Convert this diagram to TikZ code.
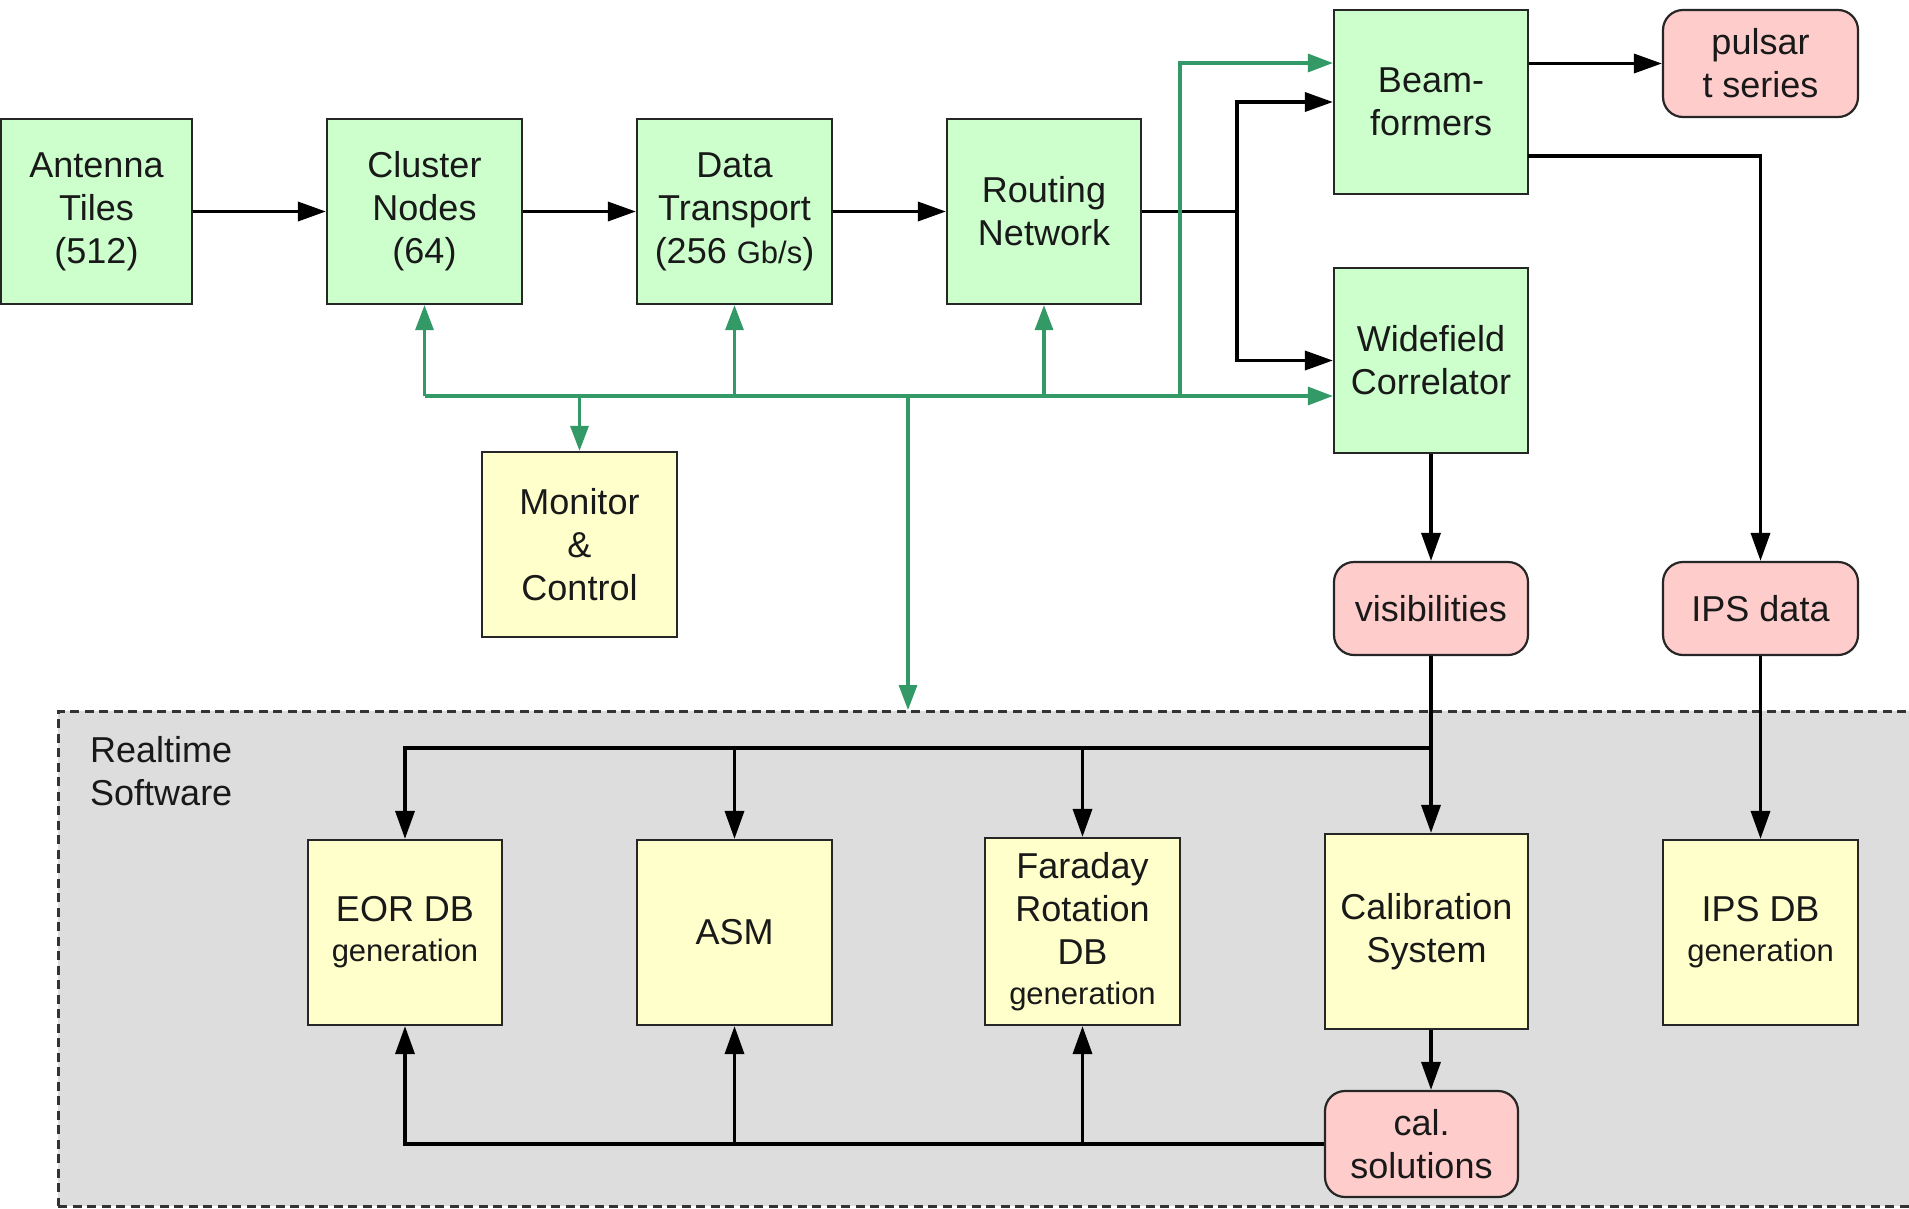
\documentclass[tikz,border=0pt]{standalone}
\usepackage{fontspec}
\setmainfont{Liberation Sans}
\usetikzlibrary{arrows.meta}
\definecolor{boxgreen}{HTML}{CCFFCC}
\definecolor{boxyellow}{HTML}{FFFFCC}
\definecolor{boxpink}{HTML}{FFCCCC}
\definecolor{rtgray}{HTML}{DDDDDD}
\definecolor{linegreen}{HTML}{339966}
\newcommand{\sm}[1]{{\fontsize{31}{36}\selectfont #1}}
\begin{document}
\begin{tikzpicture}[x=1pt,y=1pt,
  box/.style={draw=black!85, line width=2.2pt, minimum width=195pt, minimum height=185pt,
    align=center, inner sep=0pt, text=black!90, font=\fontsize{36}{43}\selectfont},
  gbox/.style={box, fill=boxgreen},
  ybox/.style={box, fill=boxyellow},
  pbox/.style={box, fill=boxpink, rounded corners=20pt},
  blk/.style={draw=black, line width=3.5pt},
  arr/.style={blk, -{Triangle[length=28pt,width=19pt]}},
  gln/.style={draw=linegreen, line width=3.2pt},
  garr/.style={gln, -{Triangle[length=25pt,width=18pt]}}
]
\useasboundingbox (0,0) rectangle (1909,-1208);
\fill[white] (0,0) rectangle (1909,-1208);

% realtime software region
\node[draw=black!80, line width=2.6pt, dash pattern=on 9pt off 5.5pt, fill=rtgray,
  minimum width=1880pt, minimum height=495pt, anchor=north west, inner sep=0pt] (rt) at (57,-710) {};
\node[anchor=north west, align=left, inner sep=0pt, text=black!90,
  font=\fontsize{36}{43}\selectfont] (rtlabel) at (90,-736) {Realtime\\Software};

% top row
\node[gbox, minimum width=191pt] (ant) at (96.5,-211.5) {Antenna\\Tiles\\(512)};
\node[gbox] (clu) at (424.5,-211.5) {Cluster\\Nodes\\(64)};
\node[gbox] (dat) at (734.5,-211.5) {Data\\Transport\\(256 \sm{Gb/s})};
\node[gbox, minimum width=194pt] (rou) at (1044,-211.5) {Routing\\Network};
\node[gbox, minimum width=194pt, minimum height=184pt] (bea) at (1431,-102) {Beam-\\formers};
\node[pbox, minimum height=107pt] (pul) at (1760.5,-63.5) {pulsar\\t series};
\node[gbox, minimum width=194pt] (wid) at (1431,-360.5) {Widefield\\Correlator};
\node[pbox, minimum width=194pt, minimum height=93pt] (vis) at (1431,-608.5) {visibilities};
\node[pbox, minimum height=93pt] (ipsd) at (1760.5,-608.5) {IPS data};
\node[ybox] (mon) at (579.5,-544.5) {Monitor\\\&\\Control};

% software boxes
\node[ybox, minimum width=194pt] (eor) at (405,-932.5) {EOR DB\\[-3pt]\sm{generation}};
\node[ybox] (asm) at (734.5,-932.5) {ASM};
\node[ybox, minimum height=187pt] (far) at (1082.5,-931.5) {Faraday\\Rotation\\DB\\[-3pt]\sm{generation}};
\node[ybox, minimum width=203pt, minimum height=195pt] (cal) at (1426.5,-931.5) {Calibration\\System};
\node[ybox] (ipsdb) at (1760.5,-932.5) {IPS DB\\[-3pt]\sm{generation}};
\node[pbox, minimum width=193pt, minimum height=106pt] (cs) at (1421.5,-1144) {cal.\\solutions};

% main data path
\draw[arr] (ant.east) -- (clu.west);
\draw[arr] (clu.east) -- (dat.west);
\draw[arr] (dat.east) -- (rou.west);
\coordinate (sp) at (1237,-211.5);
\draw[blk] (rou.east) -- (sp);
\draw[arr] (sp) |- (bea.west);
\draw[arr] (sp) |- (wid.west);
\draw[arr] (bea.east |- pul.west) -- (pul.west);
\coordinate (b2) at (1528,-156);
\draw[arr] (b2) -| (ipsd.north);
\draw[arr] (wid.south) -- (vis.north);
\draw[arr] (ipsd.south) -- (ipsdb.north);

% green control bus
\coordinate (g1) at (424.5,-396);
\coordinate (g5) at (1180,-396);
\coordinate (g6) at (1180,-63);
\coordinate (g7) at (908,-396);
\draw[garr] (g1) -- (g1 -| wid.west);
\draw[garr] (g1) -- (clu.south);
\draw[garr] (g1 -| dat.south) -- (dat.south);
\draw[garr] (g1 -| rou.south) -- (rou.south);
\draw[garr] (g1 -| mon.north) -- (mon.north);
\draw[garr] (g5) -- (g6) -- (g6 -| bea.west);
\draw[garr] (g7) -- (g7 |- rt.north);

% visibilities distribution
\coordinate (v1) at (1431,-748);
\draw[arr] (vis.south) -- (vis.south |- cal.north);
\draw[arr] (v1) -| (eor.north);
\draw[arr] (v1 -| asm.north) -- (asm.north);
\draw[arr] (v1 -| far.north) -- (far.north);

% calibration solutions
\draw[arr] (cal.south -| vis.south) -- (cs.north -| vis.south);
\draw[arr] (cs.west) -| (eor.south);
\draw[arr] (cs.west -| asm.south) -- (asm.south);
\draw[arr] (cs.west -| far.south) -- (far.south);
\end{tikzpicture}
\end{document}
